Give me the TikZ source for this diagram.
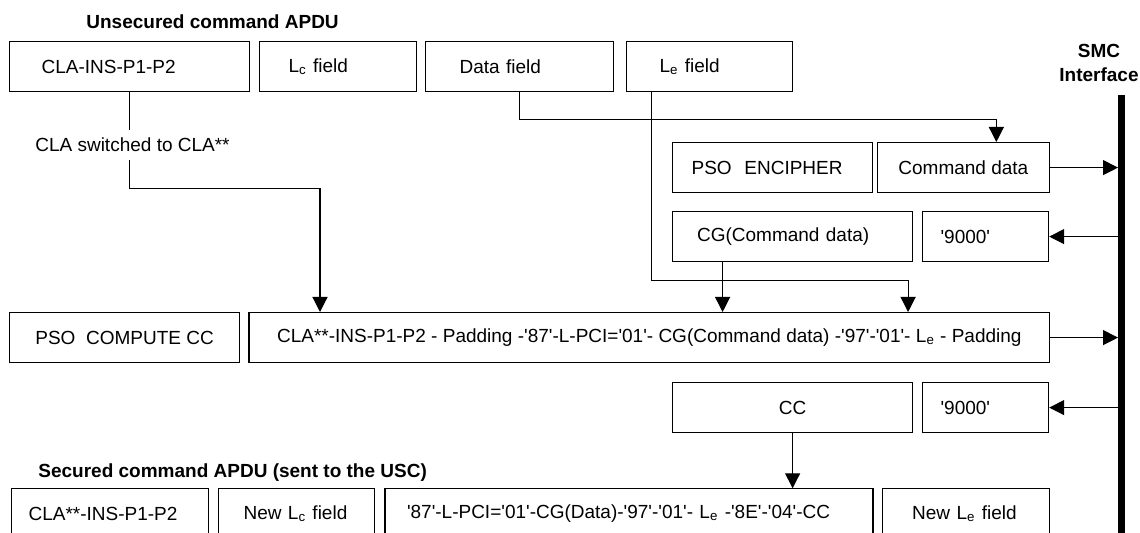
\documentclass[tikz,border=0pt]{standalone}
\usepackage{fontspec}
\setmainfont{Liberation Sans}[Ligatures=TeXOff]
\usepackage{tikz}
\tikzstyle{field}=[rectangle,draw=black,line width=0.6pt,anchor=north west,
minimum height=25pt,inner sep=0pt,font=\fontsize{9.5}{11.4}\selectfont]
\tikzstyle{heading}=[anchor=west,inner sep=0pt,font=\bfseries\fontsize{9.5}{11.4}\selectfont]
\tikzstyle{wire}=[line width=0.6pt]
\tikzstyle{flow}=[line width=0.6pt,-{Triangle[length=7.5pt,width=7.5pt]}]
\usetikzlibrary{arrows.meta,positioning,calc}

\begin{document}
\begin{tikzpicture}[x=0.5pt,y=-0.5pt]
			\tikzstyle{lfield}=[field,align=left]

			\useasboundingbox (0,0) rectangle (1140,533);
			\path[clip] (0,0) rectangle (1140,533);

			\node[heading] (unsec) at (86,22) {Unsecured command APDU};
			\node[heading,anchor=center,align=center,font=\bfseries\fontsize{9.5}{11.8}\selectfont] (smc) at (1099,63) {SMC\\Interface};

			\node[lfield,text width=88pt,inner xsep=16pt] (cmd) at (9,41) {CLA-INS-P1-P2};
			\node[lfield,text width=49.5pt,inner xsep=14.5pt] (lc) at (259,41) {L\textsubscript{c} field};
			\node[lfield,text width=60pt,inner xsep=17pt] (data) at (425,41) {Data field};
			\node[lfield,text width=50pt,inner xsep=16.5pt] (le) at (626,41) {L\textsubscript{e} field};

			\node[inner sep=3.6pt,font=\fontsize{9.5}{11.4}\selectfont] (sw) at (132.5,145) {CLA switched to CLA**};

			\node[lfield,text width=80.75pt,inner xsep=9.5pt] (enc) at (672,142) {PSO~~ENCIPHER};
			\node[field,minimum width=86.25pt] (cmdd) at (876.5,142) {Command data};
			\node[lfield,text width=95.5pt,inner xsep=12.25pt] (cg) at (672,211) {CG(Command data)};
			\node[lfield,text width=45pt,inner xsep=9pt] (ok1) at (922,211) {'9000'};

			\node[field,minimum width=115pt] (pcc) at (9,312) {PSO~~COMPUTE CC};
			\node[field,minimum width=400.3pt] (mac) at (248.4,312) {CLA**-INS-P1-P2 - Padding -'87'-L-PCI='01'- CG(Command data) -'97'-'01'- L\textsubscript{e} - Padding};

			\node[field,minimum width=120pt] (cc) at (672,382) {CC};
			\node[lfield,text width=45pt,inner xsep=9pt] (ok2) at (922,382) {'9000'};

			\node[heading] (sec) at (38,473) {Secured command APDU (sent to the USC)};
			\node[lfield,text width=81.25pt,inner xsep=8.5pt] (s1) at (11,488.3) {CLA**-INS-P1-P2};
			\node[lfield,text width=52.75pt,inner xsep=12.5pt] (s2) at (218,488.3) {New L\textsubscript{c} field};
			\node[lfield,text width=222pt,inner xsep=11pt] (s3) at (384.4,488.3) {'87'-L-PCI='01'-CG(Data)-'97'-'01'- L\textsubscript{e} -'8E'-'04'-CC};
			\node[lfield,text width=53.7pt,inner xsep=15pt] (s4) at (881.6,488.3) {New L\textsubscript{e} field};

			% SMC interface bar
			\coordinate (barTop) at (1121.5,95);
			\coordinate (barEnd) at (1121.5,540);
			\draw[line width=3.5pt] (barTop) -- (barEnd);

			% connectors
			\coordinate (claIn) at ([xshift=35.8pt]mac.north west);
			\coordinate (dataIn) at ([xshift=16.5pt]cmdd.north);
			\coordinate (leOut) at ([xshift=-29pt]le.south);
			\coordinate (leIn) at ([xshift=129.4pt]mac.north);
			\coordinate (cgOut) at ([xshift=-35pt]cg.south);

			\draw[wire] (cmd.south) -- (cmd.south |- sw.north);
			\draw[flow] (cmd.south |- sw.south) -- ++(0,29) -| (claIn);
			\draw[flow] (data.south) -- ++(0,27) -| (dataIn);
			\draw[flow] (leOut) -- ++(0,188) -| (leIn);
			\draw[flow] (cgOut) -- (cgOut |- mac.north);
			\draw[flow] (cc.south) -- (cc.south |- s3.north);

			\draw[flow,shorten >=1.75pt] (cmdd.east) -- (cmdd.east -| barTop);
			\draw[flow] (ok1.east -| barTop) -- (ok1.east);
			\draw[flow,shorten >=1.75pt] (mac.east) -- (mac.east -| barTop);
			\draw[flow] (ok2.east -| barTop) -- (ok2.east);
		\end{tikzpicture}
\end{document}
